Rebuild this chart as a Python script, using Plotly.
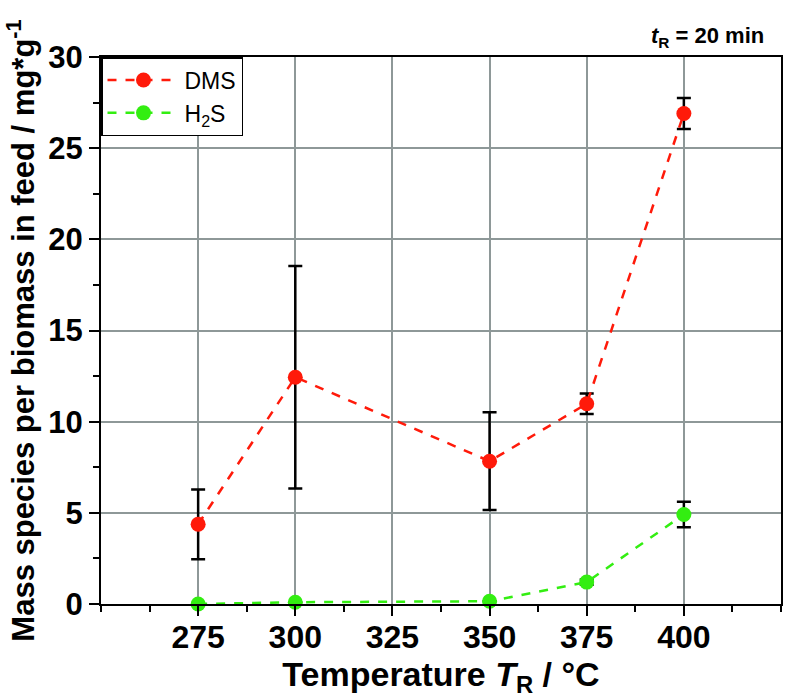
import plotly.graph_objects as go

# Data
temperatures = [275, 300, 350, 375, 400]
dms_values = [4.37, 12.44, 7.83, 10.98, 26.90]
dms_errors = [1.91, 6.10, 2.68, 0.56, 0.85]
h2s_values = [0.0, 0.10, 0.15, 1.20, 4.91]
h2s_errors = [0.0, 0.0, 0.0, 0.15, 0.70]
x_tick_values = [275, 300, 325, 350, 375, 400]
y_tick_values = [0, 5, 10, 15, 20, 25, 30]

FONT = "Liberation Sans, Arial, sans-serif"
GRID = "#8e9898"

fig = go.Figure()
fig.add_trace(go.Scatter(
    x=temperatures, y=dms_values, name="DMS", mode="lines+markers",
    line=dict(color="#ff1a0a", width=2.5, dash="dash"),
    marker=dict(color="#ff1a0a", size=15),
    error_y=dict(type="data", array=dms_errors, visible=True,
                 color="black", thickness=2.5, width=7),
    cliponaxis=False,
))
fig.add_trace(go.Scatter(
    x=temperatures, y=h2s_values, name="H<sub>2</sub>S", mode="lines+markers",
    line=dict(color="#33ee11", width=2.5, dash="dash"),
    marker=dict(color="#33ee11", size=15),
    error_y=dict(type="data", array=h2s_errors, visible=True,
                 color="black", thickness=2.5, width=7),
    cliponaxis=False,
))

fig.update_layout(
    width=788, height=698,
    margin=dict(l=101, r=5, t=57, b=94),
    plot_bgcolor="white", paper_bgcolor="white",
    font=dict(family=FONT, color="black"),
    showlegend=True,
    legend=dict(
        x=0, y=1, xanchor="left", yanchor="top",
        bordercolor="black", borderwidth=1.5, bgcolor="white",
        font=dict(size=23, family=FONT),
        itemwidth=72, tracegroupgap=0,
    ),
    annotations=[dict(
        text="<b><i>t</i><sub>R</sub> = 20 min</b>",
        xref="paper", yref="paper", x=0.978, y=1.037,
        xanchor="right", yanchor="middle", showarrow=False,
        font=dict(size=22, family=FONT, color="black"),
    )],
)

fig.update_xaxes(
    range=[250, 425], tickvals=x_tick_values,
    showgrid=True, gridcolor=GRID, gridwidth=1.5,
    showline=True, linecolor="black", linewidth=2, mirror=True,
    ticks="outside", ticklen=10, tickwidth=2, tickcolor="black",
    minor=dict(dtick=12.5, tick0=262.5, ticks="outside", ticklen=6,
               tickwidth=2, tickcolor="black", showgrid=False),
    tickfont=dict(size=32, family=FONT, weight="bold"),
    ticklabelstandoff=-6,
    title=dict(text="Temperature <i>T</i><sub>R</sub> / °C",
               font=dict(size=34, family=FONT, weight="bold"), standoff=4),
    zeroline=False,
)
fig.update_yaxes(
    range=[0, 30], tickvals=y_tick_values,
    showgrid=True, gridcolor=GRID, gridwidth=1.5,
    showline=True, linecolor="black", linewidth=2, mirror=True,
    ticks="outside", ticklen=10, tickwidth=2, tickcolor="black",
    minor=dict(dtick=2.5, ticks="outside", ticklen=6,
               tickwidth=2, tickcolor="black", showgrid=False),
    tickfont=dict(size=31, family=FONT, weight="bold"),
    title=dict(text="Mass species per biomass in feed / mg*g<sup>-1</sup>",
               font=dict(size=31, family=FONT, weight="bold"), standoff=4),
    zeroline=False,
)

fig.write_html(
    "out.html",
    config={"displayModeBar": False},
    post_script="document.body.style.margin='0';document.body.style.overflow='hidden';",
)
